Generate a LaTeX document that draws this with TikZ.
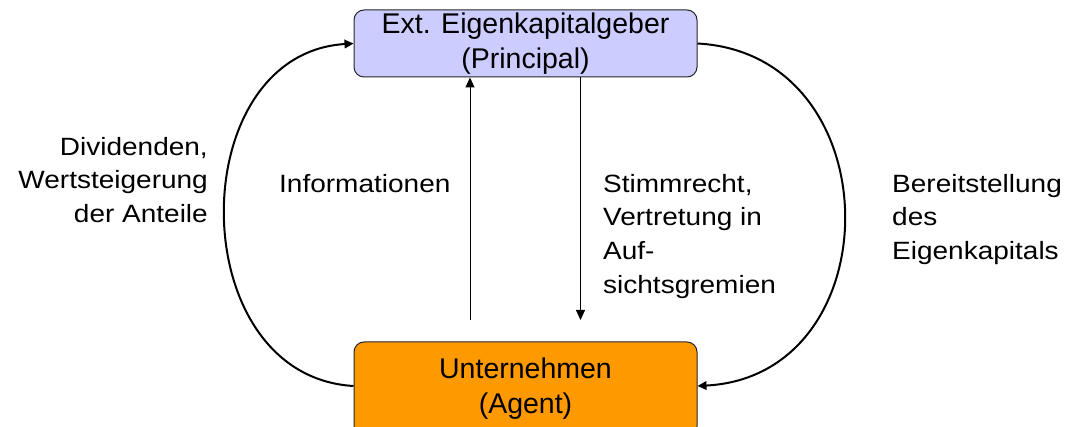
\documentclass[tikz,border=0pt]{standalone}
\usepackage{fontspec}
\setmainfont{Liberation Sans}
\newfontfamily\labfont{Liberation Sans}[FakeStretch=1.12]
\usetikzlibrary{arrows.meta}
\definecolor{topfill}{HTML}{CCCCFF}
\definecolor{botfill}{HTML}{FF9900}
\tikzset{
  box/.style={draw=black!85, line width=1pt, rounded corners=10pt, align=center,
    inner sep=0pt, font=\fontsize{28.5}{35}\selectfont, text=black},
  lab/.style={inner sep=0pt, font=\labfont\fontsize{25}{33.6}\selectfont, text=black},
  arcarrow/.style={line width=2pt, -{Triangle[length=9pt,width=8.5pt]}},
  arcline/.style={line width=2pt},
  varrow/.style={line width=1pt, -{Triangle[length=10pt,width=9pt]}}
}
\begin{document}
\begin{tikzpicture}[x=1pt,y=-1pt]
\useasboundingbox (0,0) rectangle (1074,427);
\clip (0,0) rectangle (1074,427);
\fill[white] (0,0) rectangle (1074,427);
% boxes
\node[box, fill=topfill, minimum width=343pt, minimum height=67pt] (P) at (525.5,43.5)
  {Ext. Eigenkapitalgeber\\(Principal)};
\node[box, fill=botfill, minimum width=343pt, minimum height=94pt] (A) at (525.5,389)
  {Unternehmen\\(Agent)};
% arcs
\draw[arcarrow] ([yshift=3pt]A.west) .. controls (182,376) and (182,54) .. (P.west);
\draw[arcarrow] (P.east) .. controls (893,54) and (893,376) .. ([yshift=3pt]A.east);
% vertical arrows
\coordinate (i0) at (470,320);
\coordinate (s1) at (580.5,320);
\draw[varrow] (i0) -- (i0 |- P.south);
\draw[varrow] (s1 |- P.south) -- (s1);
% labels
\node[lab, anchor=north east, align=right] (ldiv) at (208,137)
  {Dividenden,\\Wertsteigerung\\der Anteile};
\node[lab, anchor=base west] (linf) at (279,192.3) {Informationen};
\node[lab, anchor=north west, align=left] (lstim) at (603,174)
  {Stimmrecht,\\Vertretung in\\Auf-\\sichtsgremien};
\node[lab, anchor=north west, align=left] (lber) at (892,174)
  {Bereitstellung\\des\\Eigenkapitals};
\end{tikzpicture}
\end{document}
